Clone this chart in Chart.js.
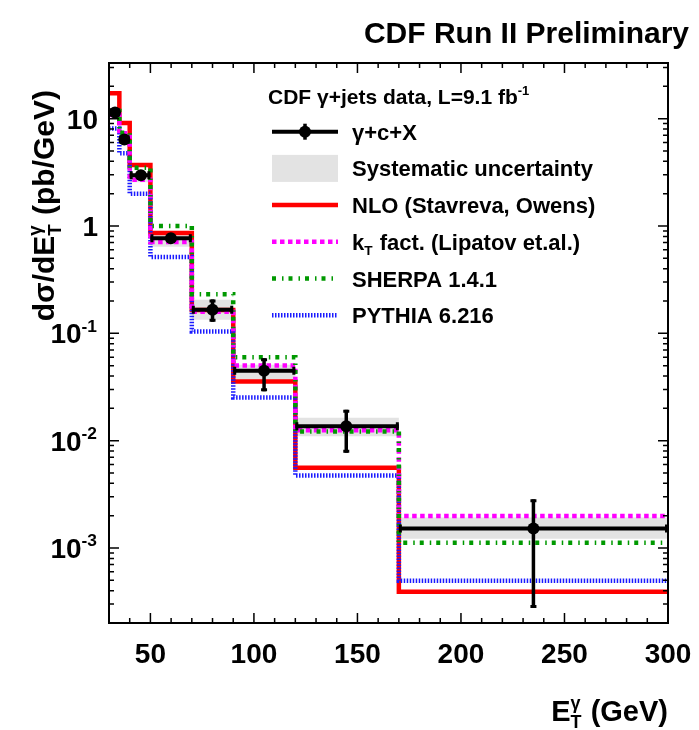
<!DOCTYPE html>
<html>
<head>
<meta charset="utf-8">
<script src="https://cdn.jsdelivr.net/npm/chart.js@4.4.1/dist/chart.umd.min.js"></script>
<style>
  html, body { margin: 0; padding: 0; background: #fff; }
  #wrap { width: 699px; height: 730px; }
</style>
</head>
<body>
<div id="wrap"><canvas id="chart" width="699" height="730"></canvas></div>
<script>
// E_T^gamma bin edges (GeV)
const binEdges = [30, 35, 40, 50, 70, 90, 120, 170, 300];

// gamma + c + X data
const dataX     = [32.9, 37.4, 45.4, 59.9, 80, 104.9, 144.6, 235];
const dataY     = [11.4, 6.4, 2.97, 0.77, 0.166, 0.0448, 0.0136, 0.00152];
const dataErrHi = [12.1, 6.8, 3.15, 0.83, 0.207, 0.0587, 0.0194, 0.00284];
const dataErrLo = [10.7, 6.0, 2.80, 0.71, 0.128, 0.0288, 0.0077, 0.000276];

// systematic band
const sysHi = [12.3, 6.9, 3.10, 0.82, 0.205, 0.0509, 0.0163, 0.00192];
const sysLo = [10.5, 5.9, 2.56, 0.64, 0.134, 0.0369, 0.0110, 0.00122];

// theory predictions
const nlo    = [17.2, 9.1, 3.69, 0.86, 0.165, 0.0356, 0.0056, 0.00039];
const ktFact = [10.8, 7.3, 2.70, 0.71, 0.159, 0.0501, 0.0125, 0.00199];
const sherpa = [11.8, 7.4, 3.48, 1.00, 0.231, 0.0600, 0.0122, 0.00112];
const pythia = [8.1, 4.75, 2.00, 0.515, 0.104, 0.0253, 0.00474, 0.000495];

// axes
const xTicks = [50, 100, 150, 200, 250, 300];
const yTicks = [1e-3, 1e-2, 1e-1, 1, 10];
const yTickLabels = [['10', '-3'], ['10', '-2'], ['10', '-1'], ['1', ''], ['10', '']];

// texts
const plotTitle = 'CDF Run II Preliminary';
const legendHeader = [{t: 'CDF γ+jets data, L=9.1 fb'}, {sup: '-1'}];
const seriesNames = ['γ+c+X', 'Systematic uncertainty', 'NLO (Stavreva, Owens)',
                     'k_T fact. (Lipatov et.al.)', 'SHERPA 1.4.1', 'PYTHIA 6.216'];

const FONT = '"Liberation Sans", Arial, Helvetica, sans-serif';

function steps(vals) {
  const pts = vals.map((v, i) => ({x: binEdges[i], y: v}));
  pts.push({x: binEdges[binEdges.length - 1], y: vals[vals.length - 1]});
  return pts;
}

function bars(vals) {
  const pts = [];
  vals.forEach((v, i) => {
    pts.push({x: binEdges[i], y: v}, {x: binEdges[i + 1], y: v}, {x: binEdges[i + 1], y: null});
  });
  return pts;
}

// text with sub/superscripts
function drawRich(ctx, parts, x, y, size, weight, align) {
  const f = s => weight + ' ' + s + 'px ' + FONT;
  const small = size * 0.62;
  const widths = [];
  let w = 0;
  parts.forEach(p => {
    let pw;
    if (p.t !== undefined) {
      ctx.font = f(size);
      pw = ctx.measureText(p.t).width;
    } else {
      ctx.font = f(small);
      pw = Math.max(p.sub ? ctx.measureText(p.sub).width : 0, p.sup ? ctx.measureText(p.sup).width : 0) + 1;
    }
    widths.push(pw);
    w += pw;
  });
  let cx = align === 'right' ? x - w : x;
  ctx.textAlign = 'left';
  ctx.textBaseline = 'alphabetic';
  parts.forEach((p, i) => {
    if (p.t !== undefined) {
      ctx.font = f(size);
      ctx.fillText(p.t, cx, y);
    } else {
      ctx.font = f(small);
      if (p.sup) ctx.fillText(p.sup, cx, y - size * 0.42);
      if (p.sub) ctx.fillText(p.sub, cx, y + size * 0.24);
    }
    cx += widths[i];
  });
  return w;
}

function splitSub(name) {
  // "k_T rest" -> k, sub T, rest
  const m = name.match(/^(.*?)_(\S)(.*)$/);
  if (!m) return [{t: name}];
  return [{t: m[1]}, {sub: m[2]}, {t: m[3]}];
}

const decorations = {
  id: 'decorations',
  afterDatasetsDraw(chart) {
    const {ctx, scales: {x, y}} = chart;
    ctx.save();
    ctx.strokeStyle = '#000';
    ctx.lineCap = 'butt';
    dataX.forEach((xv, i) => {
      const px = x.getPixelForValue(xv);
      const top = y.getPixelForValue(dataErrHi[i]);
      const bot = y.getPixelForValue(dataErrLo[i]);
      ctx.lineWidth = 3.5;
      ctx.beginPath();
      ctx.moveTo(px, top); ctx.lineTo(px, bot);
      ctx.stroke();
      ctx.lineWidth = 3;
      ctx.beginPath();
      ctx.moveTo(px - 3, top + 1.5); ctx.lineTo(px + 3, top + 1.5);
      ctx.moveTo(px - 3, bot - 1.5); ctx.lineTo(px + 3, bot - 1.5);
      // x error ends
      const py = y.getPixelForValue(dataY[i]);
      const l = x.getPixelForValue(binEdges[i]);
      const r = x.getPixelForValue(binEdges[i + 1]);
      ctx.moveTo(l + 1.5, py - 4); ctx.lineTo(l + 1.5, py + 4);
      ctx.moveTo(r - 1.5, py - 4); ctx.lineTo(r - 1.5, py + 4);
      ctx.stroke();
    });
    ctx.restore();
  },
  afterDraw(chart) {
    const {ctx, chartArea: a, scales: {x, y}, data} = chart;
    ctx.save();
    // frame + inner ticks
    ctx.strokeStyle = '#000';
    ctx.lineWidth = 2;
    ctx.strokeRect(a.left, a.top, a.right - a.left, a.bottom - a.top);
    ctx.lineWidth = 1.5;
    ctx.beginPath();
    for (let v = x.min; v <= x.max + 1e-6; v += 10) {
      const px = x.getPixelForValue(v);
      const len = v % 50 === 0 ? 10 : 5;
      ctx.moveTo(px, a.bottom); ctx.lineTo(px, a.bottom - len);
      ctx.moveTo(px, a.top); ctx.lineTo(px, a.top + len);
    }
    for (let e = -4; e <= 1; e++) {
      for (let m = 1; m <= 9; m++) {
        const v = m * Math.pow(10, e);
        if (v < y.min || v > y.max) continue;
        const py = y.getPixelForValue(v);
        const len = m === 1 ? 10 : 5;
        ctx.moveTo(a.left, py); ctx.lineTo(a.left + len, py);
        ctx.moveTo(a.right, py); ctx.lineTo(a.right - len, py);
      }
    }
    ctx.stroke();

    ctx.fillStyle = '#000';
    // y tick labels
    yTicks.forEach((v, i) => {
      const py = y.getPixelForValue(v);
      const [base, exp] = yTickLabels[i];
      const parts = exp ? [{t: base}, {sup: exp}] : [{t: base}];
      drawRich(ctx, parts, a.left - 11, py + 10, 28, 'bold', 'right');
    });

    // axis titles
    drawRich(ctx, [{t: 'E'}, {sub: 'T', sup: 'γ'}, {t: ' (GeV)'}], a.right, 721, 29, 'bold', 'right');
    ctx.save();
    ctx.translate(54, 90);
    ctx.rotate(-Math.PI / 2);
    drawRich(ctx, [{t: 'dσ/dE'}, {sub: 'T', sup: 'γ'}, {t: ' (pb/GeV)'}], 0, 0, 30, 'bold', 'right');
    ctx.restore();

    // title
    ctx.font = 'bold 30px ' + FONT;
    ctx.textAlign = 'right';
    ctx.textBaseline = 'alphabetic';
    ctx.fillText(plotTitle, 689, 43);

    // legend
    const sx0 = 272, sx1 = 338, tx = 352, rowH = 36.7, row0 = 131.7;
    drawRich(ctx, legendHeader, 268, 104, 21, 'bold', 'left');
    const ds = data.datasets;
    const rows = [
      {kind: 'data'}, {kind: 'band', ds: ds[0]},
      {kind: 'line', ds: ds[2]}, {kind: 'line', ds: ds[3]}, {kind: 'line', ds: ds[4]}, {kind: 'line', ds: ds[5]}
    ];
    rows.forEach((r, i) => {
      const cy = row0 + i * rowH;
      if (r.kind === 'data') {
        ctx.strokeStyle = '#000';
        ctx.lineWidth = 4;
        ctx.setLineDash([]);
        ctx.beginPath();
        ctx.moveTo(sx0, cy); ctx.lineTo(sx1, cy);
        ctx.stroke();
        ctx.lineWidth = 3.5;
        ctx.beginPath();
        ctx.moveTo(305, cy - 8); ctx.lineTo(305, cy + 8);
        ctx.stroke();
        ctx.beginPath();
        ctx.arc(305, cy, 6, 0, Math.PI * 2);
        ctx.fill();
      } else if (r.kind === 'band') {
        ctx.fillStyle = r.ds.backgroundColor;
        ctx.fillRect(sx0, cy - 13.5, sx1 - sx0, 27);
        ctx.fillStyle = '#000';
      } else {
        ctx.strokeStyle = r.ds.borderColor;
        ctx.lineWidth = r.ds.borderWidth;
        ctx.setLineDash(r.ds.borderDash || []);
        ctx.beginPath();
        ctx.moveTo(sx0, cy); ctx.lineTo(sx1, cy);
        ctx.stroke();
        ctx.setLineDash([]);
      }
      ctx.fillStyle = '#000';
      drawRich(ctx, splitSub(seriesNames[i]), tx, cy + 8, 22, 'bold', 'left');
    });
    ctx.restore();
  }
};

const ctx = document.getElementById('chart').getContext('2d');
new Chart(ctx, {
  type: 'line',
  data: {
    datasets: [
      {label: 'sysHi', data: steps(sysHi), stepped: 'before', borderColor: 'rgba(0,0,0,0)', borderWidth: 1,
       backgroundColor: '#e3e3e3', pointRadius: 0, fill: '+1', order: 10},
      {label: 'sysLo', data: steps(sysLo), stepped: 'before', borderColor: 'rgba(0,0,0,0)', borderWidth: 1,
       pointRadius: 0, fill: false, order: 10},
      {label: seriesNames[2], data: steps(nlo), stepped: 'before', borderColor: '#ff0000', borderWidth: 4.5,
       pointRadius: 0, fill: false, order: 9},
      {label: seriesNames[3], data: steps(ktFact), stepped: 'before', borderColor: '#ff00ff', borderWidth: 4.5,
       borderDash: [4.5, 3.5], pointRadius: 0, fill: false, order: 7},
      {label: seriesNames[4], data: steps(sherpa), stepped: 'before', borderColor: '#009900', borderWidth: 4.5,
       borderDash: [4, 6, 1.5, 5], pointRadius: 0, fill: false, order: 6},
      {label: seriesNames[5], data: steps(pythia), stepped: 'before', borderColor: '#1a1aff', borderWidth: 4.5,
       borderDash: [1.5, 1.5], pointRadius: 0, fill: false, order: 8},
      {label: seriesNames[0], data: bars(dataY), borderColor: '#000', borderWidth: 4,
       pointRadius: 0, spanGaps: false, fill: false, order: 2},
      {label: 'markers', data: dataX.map((xv, i) => ({x: xv, y: dataY[i]})), showLine: false,
       pointRadius: 6, pointBackgroundColor: '#000', pointBorderColor: '#000', pointBorderWidth: 0, order: 1}
    ]
  },
  options: {
    responsive: false,
    animation: false,
    events: [],
    layout: {padding: {top: 63, right: 31, left: 0, bottom: 0}},
    plugins: {legend: {display: false}, title: {display: false}, tooltip: {enabled: false}},
    scales: {
      x: {
        type: 'linear', min: 30, max: 300,
        afterBuildTicks: s => { s.ticks = xTicks.map(v => ({value: v})); },
        afterFit: s => { s.height = 107; },
        grid: {display: false}, border: {display: false},
        ticks: {font: {family: FONT, weight: 'bold', size: 28}, color: '#000', padding: 7,
                maxRotation: 0, autoSkip: false}
      },
      y: {
        type: 'logarithmic', min: 2e-4, max: 33,
        afterBuildTicks: s => { s.ticks = yTicks.map(v => ({value: v})); },
        afterFit: s => { s.width = 109; },
        grid: {display: false}, border: {display: false},
        ticks: {display: false}
      }
    }
  },
  plugins: [decorations]
});
</script>
</body>
</html>
